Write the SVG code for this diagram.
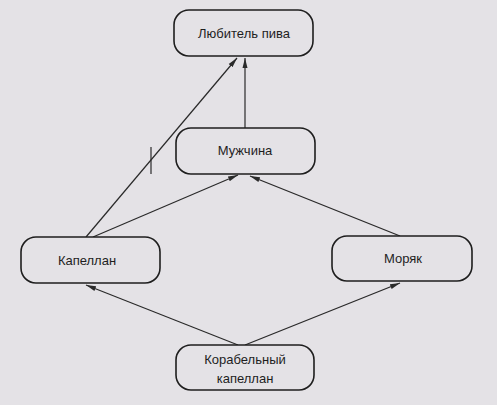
<svg xmlns="http://www.w3.org/2000/svg" width="497" height="405" viewBox="0 0 497 405">
<style>
.n rect{fill:#e4e2e6;stroke:#1e1e1e;stroke-width:1.6}
.n text{font-family:"Liberation Sans",Arial,sans-serif;font-size:13px;fill:#1e1e1e;text-anchor:middle}
.c line{stroke:#2a2a2a;stroke-width:1.2;fill:none}
</style>
<defs>
<marker id="ah" markerWidth="11" markerHeight="6" refX="10" refY="3" orient="auto" markerUnits="userSpaceOnUse">
<path d="M0,0.5 L10,3 L0,5.5 Z" fill="#2a2a2a"/>
</marker>
</defs>
<rect width="497" height="405" fill="#e4e2e6"/>
<g class="c">
<line x1="245" y1="128" x2="245" y2="58" marker-end="url(#ah)"/>
<line x1="86" y1="237" x2="237" y2="58" marker-end="url(#ah)"/>
<line x1="93" y1="237" x2="238" y2="175" marker-end="url(#ah)"/>
<line x1="400" y1="236" x2="250" y2="176" marker-end="url(#ah)"/>
<line x1="238" y1="345" x2="86" y2="285" marker-end="url(#ah)"/>
<line x1="245" y1="345" x2="400" y2="283" marker-end="url(#ah)"/>
<line x1="151" y1="147" x2="151" y2="174"/>
</g>
<g id="n1" class="n"><rect x="174" y="10" width="139" height="46" rx="15"/><text x="244" y="38">Любитель пива</text></g>
<g id="n2" class="n"><rect x="176" y="128" width="139" height="46" rx="15"/><text x="245" y="155">Мужчина</text></g>
<g id="n3" class="n"><rect x="21" y="237" width="139" height="46" rx="15"/><text x="87" y="265">Капеллан</text></g>
<g id="n4" class="n"><rect x="332" y="236" width="140" height="45" rx="15"/><text x="403" y="263">Моряк</text></g>
<g id="n5" class="n"><rect x="176" y="345" width="138" height="45" rx="15"/><text x="245" y="364">Корабельный</text><text x="245" y="383">капеллан</text></g>
</svg>
